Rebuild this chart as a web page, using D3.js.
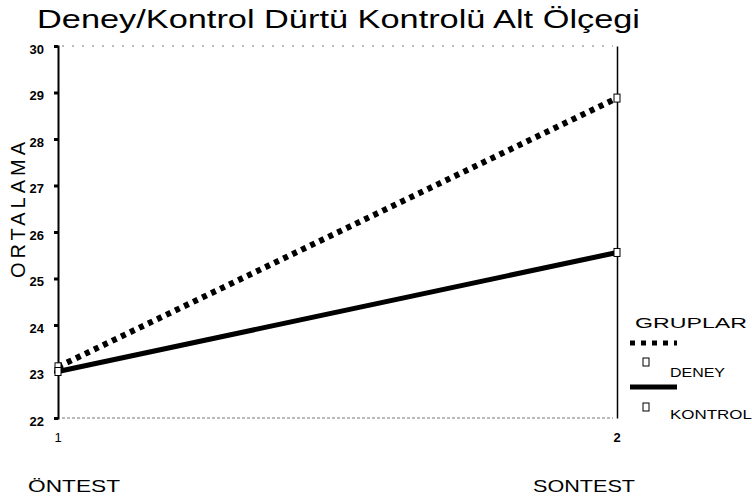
<!DOCTYPE html>
<html><head><meta charset="utf-8">
<script src="https://cdn.jsdelivr.net/npm/d3@7"></script>
<style>body{margin:0;background:#fff}svg{display:block}text{font-family:"Liberation Sans",Arial,sans-serif}</style>
</head><body><svg id="c" width="752" height="502"></svg>
<script>
const timePoints = [1, 2];
const timeLabels = ["ÖNTEST", "SONTEST"];
const deneyValues = [23.1, 28.88];
const kontrolValues = [23.0, 25.56];
const yTicks = [22, 23, 24, 25, 26, 27, 28, 29, 30];
const seriesNames = ["DENEY", "KONTROL"];

const svg = d3.select("#c");
const x = d3.scaleLinear().domain([1, 2]).range([58, 617]);
const y = d3.scaleLinear().domain([22, 30]).range([418, 46]);

svg.append("text").attr("x", 37).attr("y", 28).attr("font-size", 25)
  .attr("textLength", 603).attr("lengthAdjust", "spacingAndGlyphs")
  .text("Deney/Kontrol Dürtü Kontrolü Alt Ölçegi");

// faint frame lines top and bottom
[30, 22].forEach(v => {
  svg.append("line").attr("x1", x(1) + 4).attr("x2", x(2) - 4)
    .attr("y1", y(v)).attr("y2", y(v))
    .attr("stroke", "#777").attr("stroke-width", 1).attr("stroke-dasharray", v === 22 ? "3,2" : "2,8");
});

// left axis
const ly = d3.axisLeft(y).tickValues(yTicks).tickSize(4).tickFormat(d3.format("d"));
const gL = svg.append("g").attr("transform", `translate(${x(1)},0)`).call(ly);
gL.select(".domain").attr("stroke-width", 2);
gL.selectAll(".tick line").attr("stroke-width", 3);
gL.selectAll(".tick text").attr("font-size", 13).attr("font-weight", "bold").attr("x", -14)
  .attr("dy", "0.55em").attr("font-family", "Liberation Sans, Arial, sans-serif");

// right axis
const gR = svg.append("g").attr("transform", `translate(${x(2)},0)`)
  .call(d3.axisRight(y).tickValues([]).tickSize(0));
gR.select(".domain").attr("stroke-width", 1.5);

// x tick labels
svg.selectAll(".xl").data(timePoints).enter().append("text")
  .attr("x", d => x(d)).attr("y", 442).attr("text-anchor", "middle")
  .attr("font-size", 13).attr("font-weight", (d, i) => i ? "bold" : "normal").text(d => d);
svg.selectAll(".cl").data(timeLabels).enter().append("text")
  .attr("x", (d, i) => i === 0 ? 28 : 533).attr("y", 492)
  .attr("textLength", (d, i) => i === 0 ? 92 : 102).attr("lengthAdjust", "spacingAndGlyphs")
  .attr("font-size", 17).text(d => d);

// y title
svg.append("text").attr("transform", "translate(25,210) rotate(-90)")
  .attr("text-anchor", "middle").attr("font-size", 20)
  .attr("textLength", 136).attr("lengthAdjust", "spacing")
  .text("ORTALAMA");

const line = d3.line().x((d, i) => x(timePoints[i])).y(d => y(d));
svg.append("path").attr("d", line(kontrolValues)).attr("fill", "none")
  .attr("stroke", "#000").attr("stroke-width", 5);
svg.append("path").attr("d", line(deneyValues)).attr("fill", "none")
  .attr("stroke", "#000").attr("stroke-width", 6).attr("stroke-dasharray", "5,5");

[deneyValues, kontrolValues].forEach(vals => {
  svg.selectAll(null).data(vals).enter().append("rect")
    .attr("x", (d, i) => x(timePoints[i]) - 3).attr("y", d => y(d) - 4)
    .attr("width", 6).attr("height", 8).attr("fill", "#fff").attr("stroke", "#000").attr("stroke-width", 1);
});

// legend
svg.append("text").attr("x", 635).attr("y", 328).attr("font-size", 15)
  .attr("textLength", 112).attr("lengthAdjust", "spacingAndGlyphs").text("GRUPLAR");
svg.append("line").attr("x1", 630).attr("x2", 677).attr("y1", 343).attr("y2", 343)
  .attr("stroke", "#000").attr("stroke-width", 5).attr("stroke-dasharray", "5,6");
svg.append("line").attr("x1", 630).attr("x2", 677).attr("y1", 387).attr("y2", 387)
  .attr("stroke", "#000").attr("stroke-width", 5);
seriesNames.forEach((n, i) => {
  svg.append("rect").attr("x", 643).attr("y", 358 + i * 45).attr("width", 6).attr("height", 8)
    .attr("fill", "#fff").attr("stroke", "#000").attr("stroke-width", 1);
  svg.append("text").attr("x", 670).attr("y", 377 + i * 42).attr("font-size", 13)
    .attr("textLength", i ? 82 : 55).attr("lengthAdjust", "spacingAndGlyphs").text(n);
});
</script></body></html>
